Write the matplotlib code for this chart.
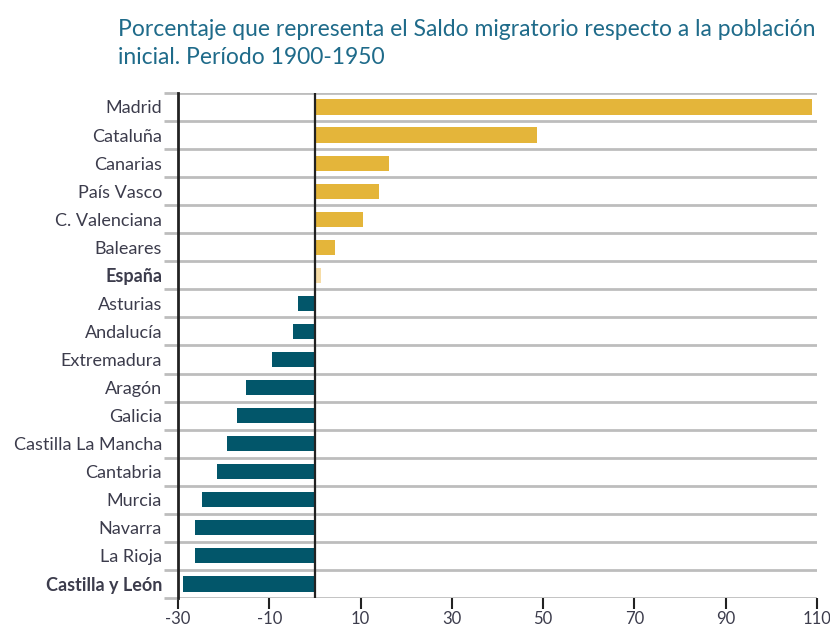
import matplotlib.pyplot as plt

# Saldo migratorio respecto a la población inicial, 1900-1950 (%)
regiones = ["Madrid", "Cataluña", "Canarias", "País Vasco", "C. Valenciana",
            "Baleares", "España", "Asturias", "Andalucía", "Extremadura",
            "Aragón", "Galicia", "Castilla La Mancha", "Cantabria", "Murcia",
            "Navarra", "La Rioja", "Castilla y León"]
valores = [108.9, 48.6, 16.2, 14.0, 10.5, 4.4, 1.3, -3.7, -4.8, -9.4,
           -15.1, -17.1, -19.3, -21.5, -24.8, -26.3, -26.3, -28.9]
negritas = ["España", "Castilla y León"]
xticks = [-30, -10, 10, 30, 50, 70, 90, 110]

amarillo = "#E4B53A"
amarillo_claro = "#F6DCA6"
azul = "#02566A"
gris = "#BDBDBD"
texto = "#3C3C4C"

plt.rcParams['font.family'] = ['Lato', 'DejaVu Sans']

fig = plt.figure(figsize=(8.3, 6.28), dpi=100)
ax = fig.add_axes([0.2145, 0.0478, 0.7698, 0.8042])

n = len(regiones)
ys = list(range(n))
colores = []
for r, v in zip(regiones, valores):
    if r == "España":
        colores.append(amarillo_claro)
    elif v >= 0:
        colores.append(amarillo)
    else:
        colores.append(azul)

ax.barh(ys, valores, height=0.54, color=colores, zorder=3)

ax.set_ylim(n - 0.5, -0.5)
ax.set_xlim(-30, 110)

# lineas horizontales entre categorias
for b in range(n + 1):
    ax.axhline(b - 0.5, color=gris, lw=2, zorder=1)
ax.axvline(0, color="#222222", lw=1.6, zorder=4)

ax.set_yticks([b - 0.5 for b in range(n + 1)], minor=False)
ax.set_yticklabels([])
ax.set_yticks(ys, minor=True)
ax.set_yticklabels(regiones, minor=True)
ax.tick_params(axis='y', which='major', length=10, width=2, color=gris)
ax.tick_params(axis='y', which='minor', length=0, pad=11.5, labelsize=13,
               labelcolor=texto)
for lab in ax.get_yticklabels(minor=True):
    if lab.get_text() in negritas:
        lab.set_fontweight('bold')

ax.set_xticks(xticks)
ax.set_xticklabels([str(t) for t in xticks])
ax.tick_params(axis='x', length=8, width=1.5, color="#222222", labelsize=12,
               labelcolor=texto, pad=1.5)

for s in ["top", "right", "bottom"]:
    ax.spines[s].set_visible(False)
ax.spines["left"].set_color("#222222")
ax.spines["left"].set_linewidth(2)
ax.spines["left"].set_zorder(5)

fig.text(0.142, 0.97,
         "Porcentaje que representa el Saldo migratorio respecto a la población\n"
         "inicial. Período 1900-1950",
         color="#1F6B8A", fontsize=16.5, va="top", ha="left", linespacing=1.4)

fig.savefig("out.png", dpi=100)
